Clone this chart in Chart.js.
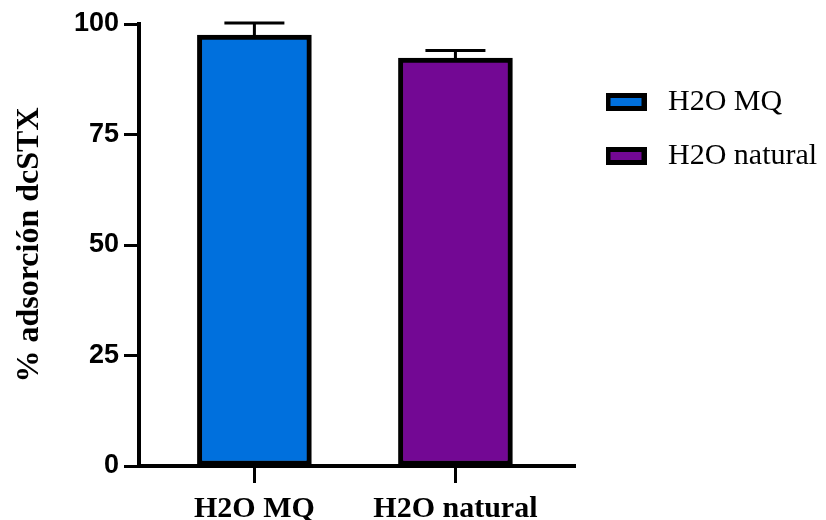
<!DOCTYPE html>
<html lang="es">
<head>
    <meta charset="UTF-8">
    <title>% adsorción dcSTX</title>
    <script src="https://cdn.jsdelivr.net/npm/chart.js"></script>
    <style>
        body { margin: 0; background: #fff; }
        #wrap { width: 826px; height: 520px; }
    </style>
</head>
<body>
<div id="wrap"><canvas id="myChart"></canvas></div>
<script>
    // data
    const categories = ['H2O MQ', 'H2O natural'];
    const adsorption = [97.5, 92.3];
    const errors = [2.7, 1.7];
    const colors = ['#0070DD', '#730894'];
    const yTicks = [0, 25, 50, 75, 100];

    // little swatch used as legend marker (black frame + fill)
    function swatch(color) {
        const c = document.createElement('canvas');
        c.width = 41; c.height = 18;
        const g = c.getContext('2d');
        g.fillStyle = '#000';
        g.fillRect(0, 0, 41, 18);
        g.fillStyle = color;
        g.fillRect(5, 5, 31, 8);
        return c;
    }

    // error bars drawn on top of the bars
    const errorBars = {
        id: 'errorBars',
        afterDatasetsDraw(chart) {
            const ctx = chart.ctx;
            const y = chart.scales.y;
            const meta = chart.getDatasetMeta(0);
            ctx.save();
            ctx.strokeStyle = '#000';
            ctx.lineWidth = 3;
            meta.data.forEach((bar, i) => {
                const top = y.getPixelForValue(adsorption[i] + errors[i]);
                ctx.beginPath();
                ctx.moveTo(bar.x, bar.y);
                ctx.lineTo(bar.x, top);
                ctx.moveTo(bar.x - 30, top);
                ctx.lineTo(bar.x + 30, top);
                ctx.stroke();
            });
            ctx.restore();
        }
    };

    // put the legend block near the top right (and let it use the full right margin)
    const legendPlace = {
        id: 'legendPlace',
        afterLayout(chart) {
            const lg = chart.legend;
            const dy = 63 - lg.top;
            lg.left = 575;
            lg.right = chart.width;
            lg.width = lg.right - lg.left;
            lg.top += dy; lg.bottom += dy;
        }
    };

    const config = {
        type: 'bar',
        data: {
            labels: categories,
            datasets: [{
                label: '% adsorción dcSTX',
                data: adsorption.map((v, i) => ({ x: i, y: v })),
                backgroundColor: colors,
                borderColor: '#000',
                borderWidth: 5,
                borderSkipped: false,
                barThickness: 114
            }]
        },
        options: {
            responsive: true,
            maintainAspectRatio: false,
            animation: false,
            layout: { padding: { top: 24, left: 0, right: 59, bottom: 0 } },
            plugins: {
                legend: {
                    position: 'right',
                    align: 'start',
                    labels: {
                        usePointStyle: true,
                        pointStyleWidth: 54,
                        padding: 24,
                        color: '#000',
                        font: { family: 'Liberation Serif', size: 30 },
                        generateLabels: () => categories.map((c, i) => ({
                            text: c,
                            fillStyle: colors[i],
                            strokeStyle: '#000',
                            lineWidth: 0,
                            pointStyle: swatch(colors[i]),
                            hidden: false,
                            index: i,
                            fontColor: '#000'
                        }))
                    }
                },
                tooltip: { enabled: false }
            },
            scales: {
                x: {
                    type: 'linear',
                    offset: false,
                    min: -0.574,
                    max: 1.596,
                    afterBuildTicks: (axis) => {
                        axis.ticks = categories.map((c, i) => ({ value: i }));
                    },
                    afterFit: (axis) => { axis.height = 54; },
                    ticks: {
                        callback: (v) => categories[v],
                        autoSkip: false,
                        maxRotation: 0,
                        padding: 8,
                        color: '#000',
                        font: { family: 'Liberation Serif', size: 30, weight: 'bold' }
                    },
                    grid: {
                        offset: false,
                        drawOnChartArea: false,
                        tickLength: 17,
                        tickWidth: 3,
                        tickColor: '#000'
                    },
                    border: { color: '#000', width: 4 }
                },
                y: {
                    min: 0,
                    max: 100,
                    afterBuildTicks: (axis) => {
                        axis.ticks = yTicks.map(v => ({ value: v }));
                    },
                    afterFit: (axis) => { axis.width = 139; },
                    ticks: {
                        padding: 5,
                        color: '#000',
                        font: { family: 'Liberation Sans', size: 27, weight: 'bold' }
                    },
                    grid: {
                        drawOnChartArea: false,
                        tickLength: 15,
                        tickWidth: 3,
                        tickColor: '#000'
                    },
                    border: { color: '#000', width: 4 },
                    title: {
                        display: true,
                        text: '% adsorción dcSTX',
                        color: '#000',
                        padding: { top: 11, bottom: 0 },
                        font: { family: 'Liberation Serif', size: 32, weight: 'bold' }
                    }
                }
            }
        },
        plugins: [errorBars, legendPlace]
    };

    const myChart = new Chart(document.getElementById('myChart'), config);
</script>
</body>
</html>
